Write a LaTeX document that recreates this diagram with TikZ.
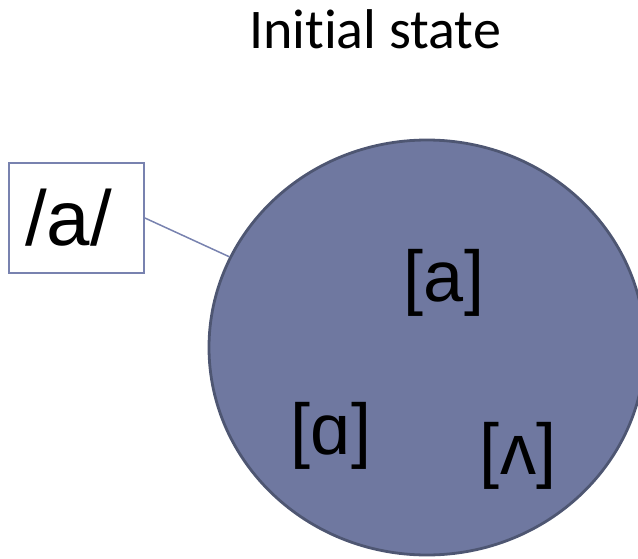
\documentclass[tikz,border=0pt]{standalone}
\usepackage{fontspec}
\usetikzlibrary{shapes.geometric}
\setmainfont{Liberation Sans}
\newfontfamily\titlefont[Ligatures=NoCommon]{Carlito}
\definecolor{circfill}{RGB}{111,120,160}
\definecolor{circline}{RGB}{78,86,114}
\definecolor{boxline}{RGB}{120,130,175}
\begin{document}
\begin{tikzpicture}[x=1pt,y=-1pt,
  phon/.style={font=\fontsize{72}{80}\selectfont, anchor=base, inner sep=0pt},
  ttl/.style={font=\titlefont\fontsize{56}{64}\selectfont, anchor=base, inner sep=0pt}]
\useasboundingbox (0,0) rectangle (638,558);
\clip (0,0) rectangle (638,558);
\node[ellipse, draw=circline, line width=2.8pt, fill=circfill, minimum width=436pt, minimum height=415pt, inner sep=0pt] (circ) at (427,347.5) {};
\node[draw=boxline, line width=1.8pt, fill=white, minimum width=135pt, minimum height=110pt, inner sep=0pt] (box) at (76.5,218) {};
\node[phon, font=\fontsize{78}{86}\selectfont] (lbl) at (68.5,245) {/a/};
\draw[boxline, line width=1.5pt] (box.east) -- (circ);
\node[ttl] (title) at (375,48) {Initial state};
\node[phon] (a) at (444,301) {[a]};
\node[phon] (alpha) at (331,454) {[ɑ]};
\node[phon] (wedge) at (518,474) {[ʌ]};
\end{tikzpicture}
\end{document}
